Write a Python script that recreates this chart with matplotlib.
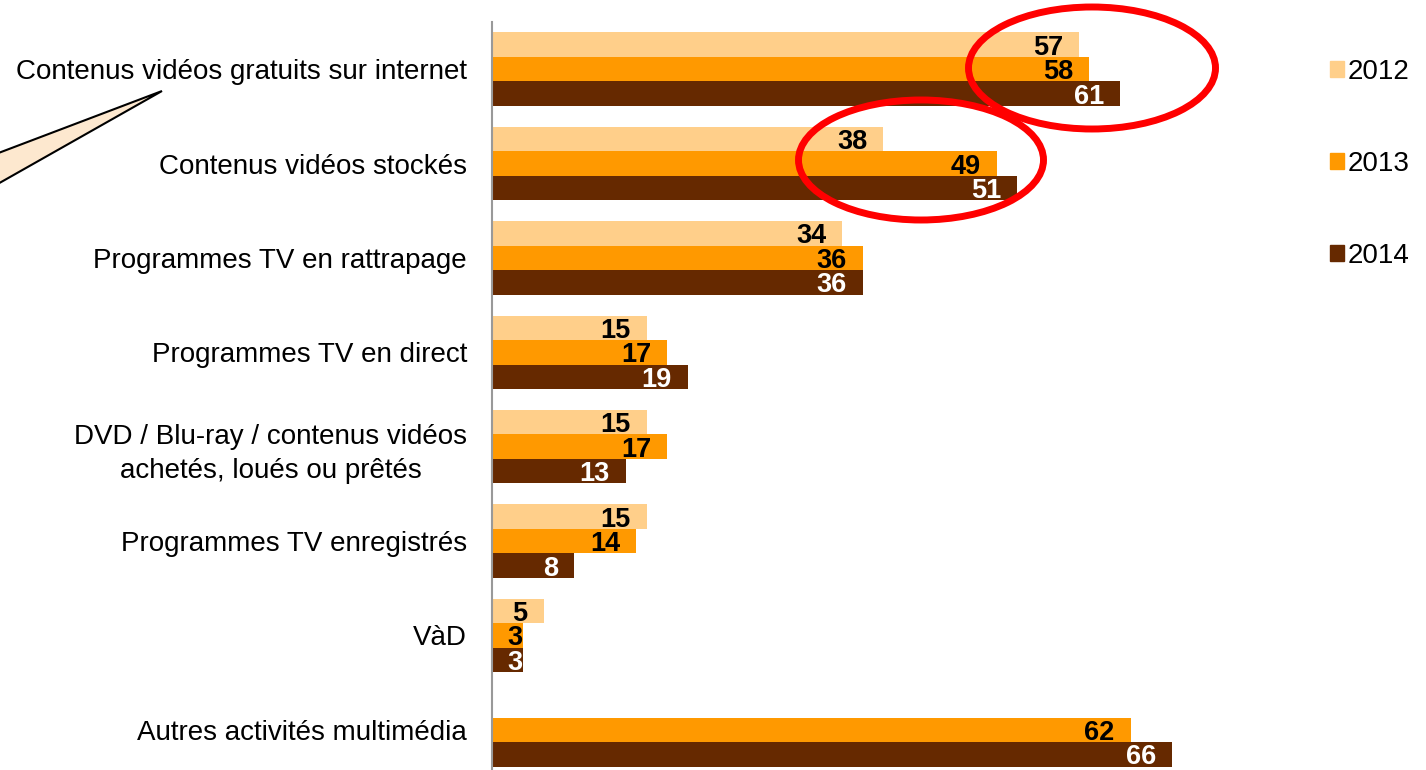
import numpy as np
import matplotlib.pyplot as plt
from matplotlib.patches import Ellipse, Polygon, Patch

plt.rcParams['font.family'] = ['Liberation Sans', 'DejaVu Sans']

# 数据
categories = ['Contenus vidéos gratuits sur internet',
              'Contenus vidéos stockés',
              'Programmes TV en rattrapage',
              'Programmes TV en direct',
              'DVD / Blu-ray / contenus vidéos\nachetés, loués ou prêtés',
              'Programmes TV enregistrés',
              'VàD',
              'Autres activités multimédia']
years = ['2012', '2013', '2014']
v2012 = [57, 38, 34, 15, 15, 15, 5, np.nan]
v2013 = [58, 49, 36, 17, 17, 14, 3, 62]
v2014 = [61, 51, 36, 19, 13, 8, 3, 66]

colors = ['#FFCF8A', '#FF9900', '#662900']
text_colors = ['black', 'black', 'white']

fig = plt.figure(figsize=(14.26, 7.70), dpi=100)
W, H = 1426, 770
ax = fig.add_axes([492 / W, -7 / H, 721 / W, 1 - 22 / H + 7 / H])

y = np.arange(len(categories))
h = 0.26
for k, (vals, c, tc) in enumerate(zip([v2012, v2013, v2014], colors, text_colors)):
    pos = y + (k - 1) * h
    ax.barh(pos, vals, height=h, color=c, label=years[k])
    for p, v in zip(pos, vals):
        if np.isnan(v):
            continue
        pad = 11.5 if v >= 5 else 0
        ax.annotate(f'{v:.0f}', xy=(v, p), xytext=(-pad, 0), textcoords='offset points',
                    ha='right', va='center_baseline', fontsize=19.5, fontweight='bold', color=tc)

ax.set_xlim(0, 70)
ax.set_ylim(len(categories) - 0.5, -0.5)
ax.set_yticks(y)
ax.set_yticklabels(categories, fontsize=20, multialignment='center', linespacing=1.43)
ax.tick_params(axis='y', length=0, pad=18)
ax.set_xticks([])
for s in ['top', 'right', 'bottom']:
    ax.spines[s].set_visible(False)
ax.spines['left'].set_color('#999999')
ax.spines['left'].set_linewidth(1.5)

# 图例
handles = [Patch(color=c) for c in colors]
fig.legend(handles, years, loc='upper left', bbox_to_anchor=(1330 / W, 1 - 59 / H),
           frameon=False, fontsize=20, handlelength=0.5, handleheight=0.5,
           handletextpad=0.15, labelspacing=2.37, borderpad=0, borderaxespad=0)

# 红色椭圆
def px(x, yy):
    return (x / W, 1 - yy / H)

e1 = Ellipse(px(1092, 68), 247 / W, 122 / H, transform=fig.transFigure,
             fill=False, edgecolor='#FF0000', linewidth=5)
e2 = Ellipse(px(921, 160), 245 / W, 120 / H, transform=fig.transFigure,
             fill=False, edgecolor='#FF0000', linewidth=5)
fig.patches.extend([e1, e2])

# 气泡指针
tri = Polygon([px(162, 91), px(-20, 160), px(-20, 194)], closed=True,
              transform=fig.transFigure, facecolor='#FDE8CF', edgecolor='black', linewidth=1.5)
fig.patches.append(tri)

fig.savefig('out.png', dpi=100)
